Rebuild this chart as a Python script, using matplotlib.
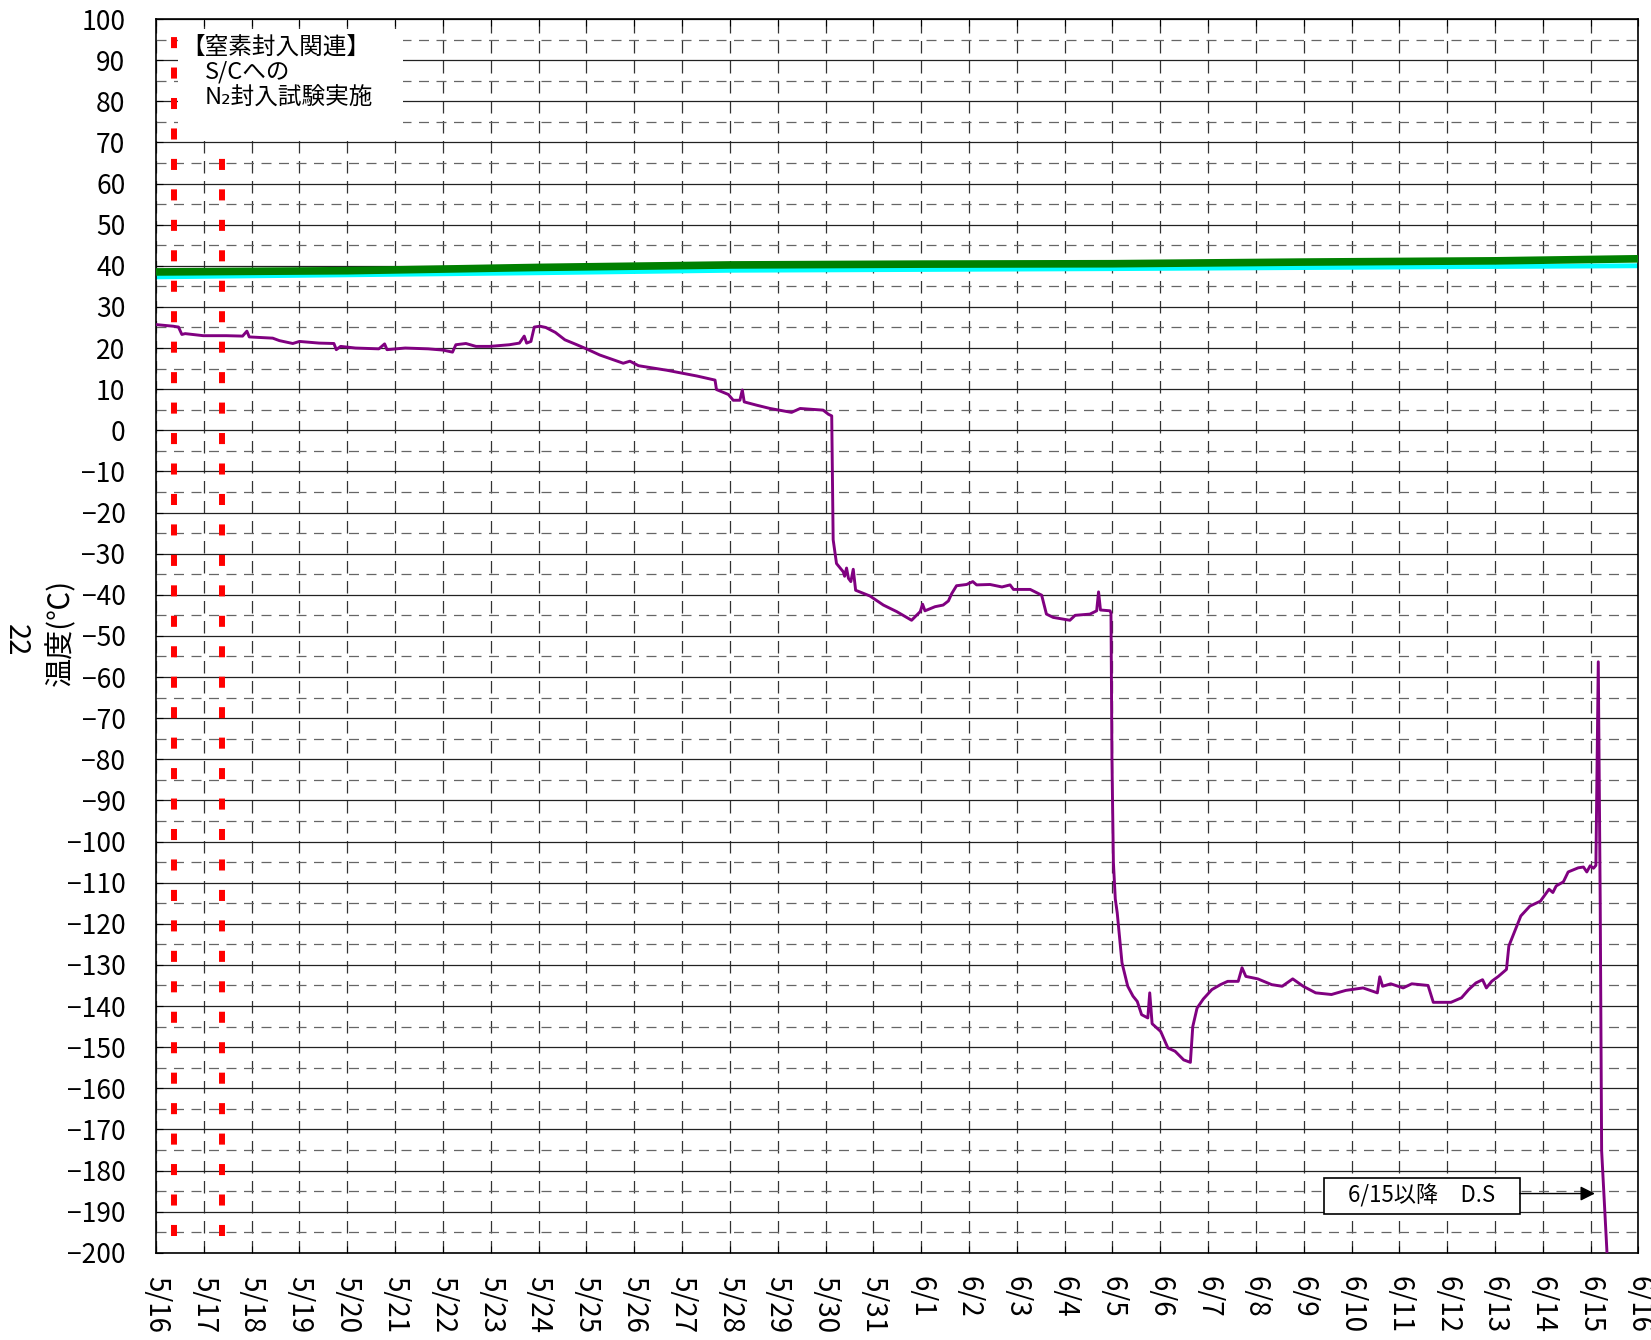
import matplotlib
matplotlib.use("Agg")
import matplotlib.pyplot as plt
from matplotlib.patches import Rectangle
from matplotlib.ticker import MultipleLocator

plt.rcParams["font.family"] = ["Noto Sans CJK JP", "DejaVu Sans"]

# x軸: 5/16 0:00 からの経過日数
x_labels = ["5/16", "5/17", "5/18", "5/19", "5/20", "5/21", "5/22", "5/23",
            "5/24", "5/25", "5/26", "5/27", "5/28", "5/29", "5/30", "5/31",
            "6/1", "6/2", "6/3", "6/4", "6/5", "6/6", "6/7", "6/8",
            "6/9", "6/10", "6/11", "6/12", "6/13", "6/14", "6/15", "6/16"]

# 窒素封入関連 (赤破線)
red_days = [0.37, 1.376]

# 緑線
green_day = [0, 4, 8, 12, 16, 20, 24, 28, 31]
green_temp = [38.5, 38.8, 39.6, 40.2, 40.4, 40.5, 40.9, 41.2, 41.7]

# 水色線
cyan_day = [0, 8, 12, 20, 26, 31]
cyan_temp = [37.3, 38.3, 38.9, 39.3, 39.7, 40.0]

# 紫線
purple_day = [
    0.0, 0.36, 0.47, 0.54, 0.61, 0.99, 1.47, 1.81, 1.9, 1.95,
    2.44, 2.58, 2.86, 3.0, 3.41, 3.72, 3.77, 3.86, 4.17, 4.66,
    4.78, 4.83, 5.21, 5.69, 6.0, 6.2, 6.27, 6.48, 6.69, 6.98,
    7.39, 7.6, 7.7, 7.75, 7.84, 7.91, 8.03, 8.15, 8.35, 8.55,
    8.8, 9.0, 9.28, 9.77, 9.91, 10.09, 10.68, 11.31, 11.69, 11.72,
    11.97, 12.07, 12.21, 12.26, 12.3, 12.56, 12.84, 13.29, 13.47, 13.95,
    14.06, 14.13, 14.16, 14.23, 14.37, 14.4, 14.44, 14.48, 14.53, 14.58,
    14.63, 14.93, 15.21, 15.49, 15.8, 15.98, 16.03, 16.08, 16.29, 16.46,
    16.57, 16.64, 16.74, 16.95, 17.08, 17.16, 17.44, 17.69, 17.86, 17.93,
    18.28, 18.52, 18.62, 18.76, 19.11, 19.22, 19.53, 19.67, 19.71, 19.75,
    19.95, 19.97, 19.99, 20.02, 20.06, 20.1, 20.2, 20.32, 20.43, 20.52,
    20.61, 20.74, 20.78, 20.83, 21.01, 21.16, 21.31, 21.49, 21.63, 21.68,
    21.77, 21.9, 22.08, 22.26, 22.41, 22.63, 22.71, 22.79, 23.04, 23.33,
    23.55, 23.77, 23.99, 24.25, 24.58, 24.88, 25.24, 25.54, 25.59, 25.65,
    25.82, 26.08, 26.26, 26.6, 26.71, 27.08, 27.3, 27.45, 27.6, 27.74,
    27.82, 27.93, 28.07, 28.24, 28.29, 28.4, 28.54, 28.73, 28.95, 29.13,
    29.21, 29.28, 29.43, 29.53, 29.74, 29.85, 29.92, 29.99, 30.06, 30.11,
    30.16, 30.2, 30.23, 30.34, 30.36,
]
purple_temp = [
    25.7, 25.3, 25.1, 23.3, 23.5, 23.0, 23.0, 22.9, 24.1, 22.7,
    22.4, 21.8, 21.1, 21.6, 21.2, 21.1, 19.6, 20.4, 20.0, 19.8,
    21.0, 19.6, 20.0, 19.8, 19.5, 19.0, 20.8, 21.1, 20.4, 20.4,
    20.8, 21.2, 22.9, 21.2, 21.6, 25.1, 25.3, 25.0, 23.8, 22.0,
    20.8, 19.8, 18.3, 16.3, 16.8, 15.7, 14.6, 13.2, 12.2, 9.9,
    8.7, 7.3, 7.3, 9.8, 6.9, 6.1, 5.3, 4.35, 5.3, 4.9,
    3.9, 3.5, -26.6, -32.4, -34.4, -35.5, -33.5, -36.0, -36.8, -33.8,
    -38.9, -40.3, -42.5, -44.1, -46.2, -44.1, -42.3, -43.9, -42.9, -42.5,
    -41.5, -39.7, -37.8, -37.5, -36.8, -37.6, -37.5, -38.1, -37.6, -38.7,
    -38.7, -40.1, -44.7, -45.5, -46.2, -45.0, -44.7, -43.9, -39.3, -43.7,
    -43.9, -44.5, -80.0, -105.0, -114.0, -117.3, -129.5, -135.2, -137.6, -138.9,
    -142.1, -142.9, -136.8, -144.3, -146.2, -150.2, -151.0, -153.1, -153.7, -145.0,
    -140.5, -138.3, -136.0, -134.8, -134.0, -134.0, -130.7, -132.8, -133.4, -134.8,
    -135.2, -133.4, -135.2, -136.8, -137.2, -136.2, -135.6, -136.8, -132.9, -135.2,
    -134.6, -135.6, -134.6, -135.0, -139.1, -139.1, -138.0, -136.0, -134.4, -133.6,
    -135.6, -134.0, -132.8, -131.1, -125.4, -122.2, -118.1, -115.7, -114.5, -111.6,
    -112.4, -110.8, -109.8, -107.4, -106.4, -106.2, -107.4, -105.9, -106.5, -105.8,
    -56.3, -114.3, -175.2, -199.5, -210.0,
]

fig = plt.figure(figsize=(16.51, 13.40), dpi=100)
ax = fig.add_axes([0.0945, 0.0651, 0.8979, 0.9207])

ax.set_xlim(0, 31)
ax.set_ylim(-200, 100)

ax.set_xticks(range(len(x_labels)))
ax.set_xticklabels(x_labels, rotation=270, fontsize=20)
ax.set_yticks(range(-200, 101, 10))
ax.yaxis.set_minor_locator(MultipleLocator(5))
ax.tick_params(axis="y", which="major", direction="in", length=5, pad=22, labelsize=19)
ax.tick_params(axis="y", which="minor", length=0)
ax.tick_params(axis="x", which="major", direction="in", length=5, top=True, pad=17)

ax.set_axisbelow(True)
ax.grid(axis="y", which="major", color="#222222", lw=0.9, ls="-")
ax.grid(axis="y", which="minor", color="#666666", lw=0.9, ls=(0, (8, 6)))
ax.grid(axis="x", which="major", color="#333333", lw=0.9, ls=(0, (10, 6)))
for s in ax.spines.values():
    s.set_linewidth(1.2)
    s.set_color("black")

ax.plot(cyan_day, cyan_temp, color="#00ffff", lw=3.5, zorder=2, solid_capstyle="butt")
ax.plot(green_day, green_temp, color="#008000", lw=5.5, zorder=3, solid_capstyle="butt")
ax.plot(purple_day, purple_temp, color="#800080", lw=2.1, zorder=3)

for d in red_days:
    ax.plot([d, d], [-196, 98], color="red", lw=4.3, ls=(0, (1.85, 3.25)), zorder=4)

# 窒素封入関連のテキスト
ax.add_patch(Rectangle((0.46, 70.5), 4.71, 27.1, facecolor="white", edgecolor="none", zorder=5))
ax.text(0.52, 93.2, "【窒素封入関連】", fontsize=17, ha="left", va="center", zorder=6)
ax.text(1.02, 87.1, "S/Cへの", fontsize=17, ha="left", va="center", zorder=6)
ax.text(1.02, 80.8, "N₂封入試験実施", fontsize=17, ha="left", va="center", zorder=6)

# 6/15以降 D.S
ax.add_patch(Rectangle((24.42, -190.6), 4.1, 8.7, facecolor="white", edgecolor="black", lw=1.2, zorder=5))
ax.text(26.47, -186.1, "6/15以降　D.S", fontsize=16, ha="center", va="center", zorder=6)
ax.annotate("", xy=(30.09, -185.6), xytext=(28.52, -185.6),
            arrowprops=dict(arrowstyle="-|>", color="black", lw=1.0,
                            mutation_scale=22, shrinkA=0, shrinkB=0),
            zorder=6)

fig.text(16 / 1651, 1 - 640 / 1340, "22", rotation=270, fontsize=21, ha="center", va="center")
fig.text(61 / 1651, 1 - 632 / 1340, "温度(℃)", rotation=90, fontsize=21, ha="center", va="center")

fig.savefig("out.png", dpi=100)
